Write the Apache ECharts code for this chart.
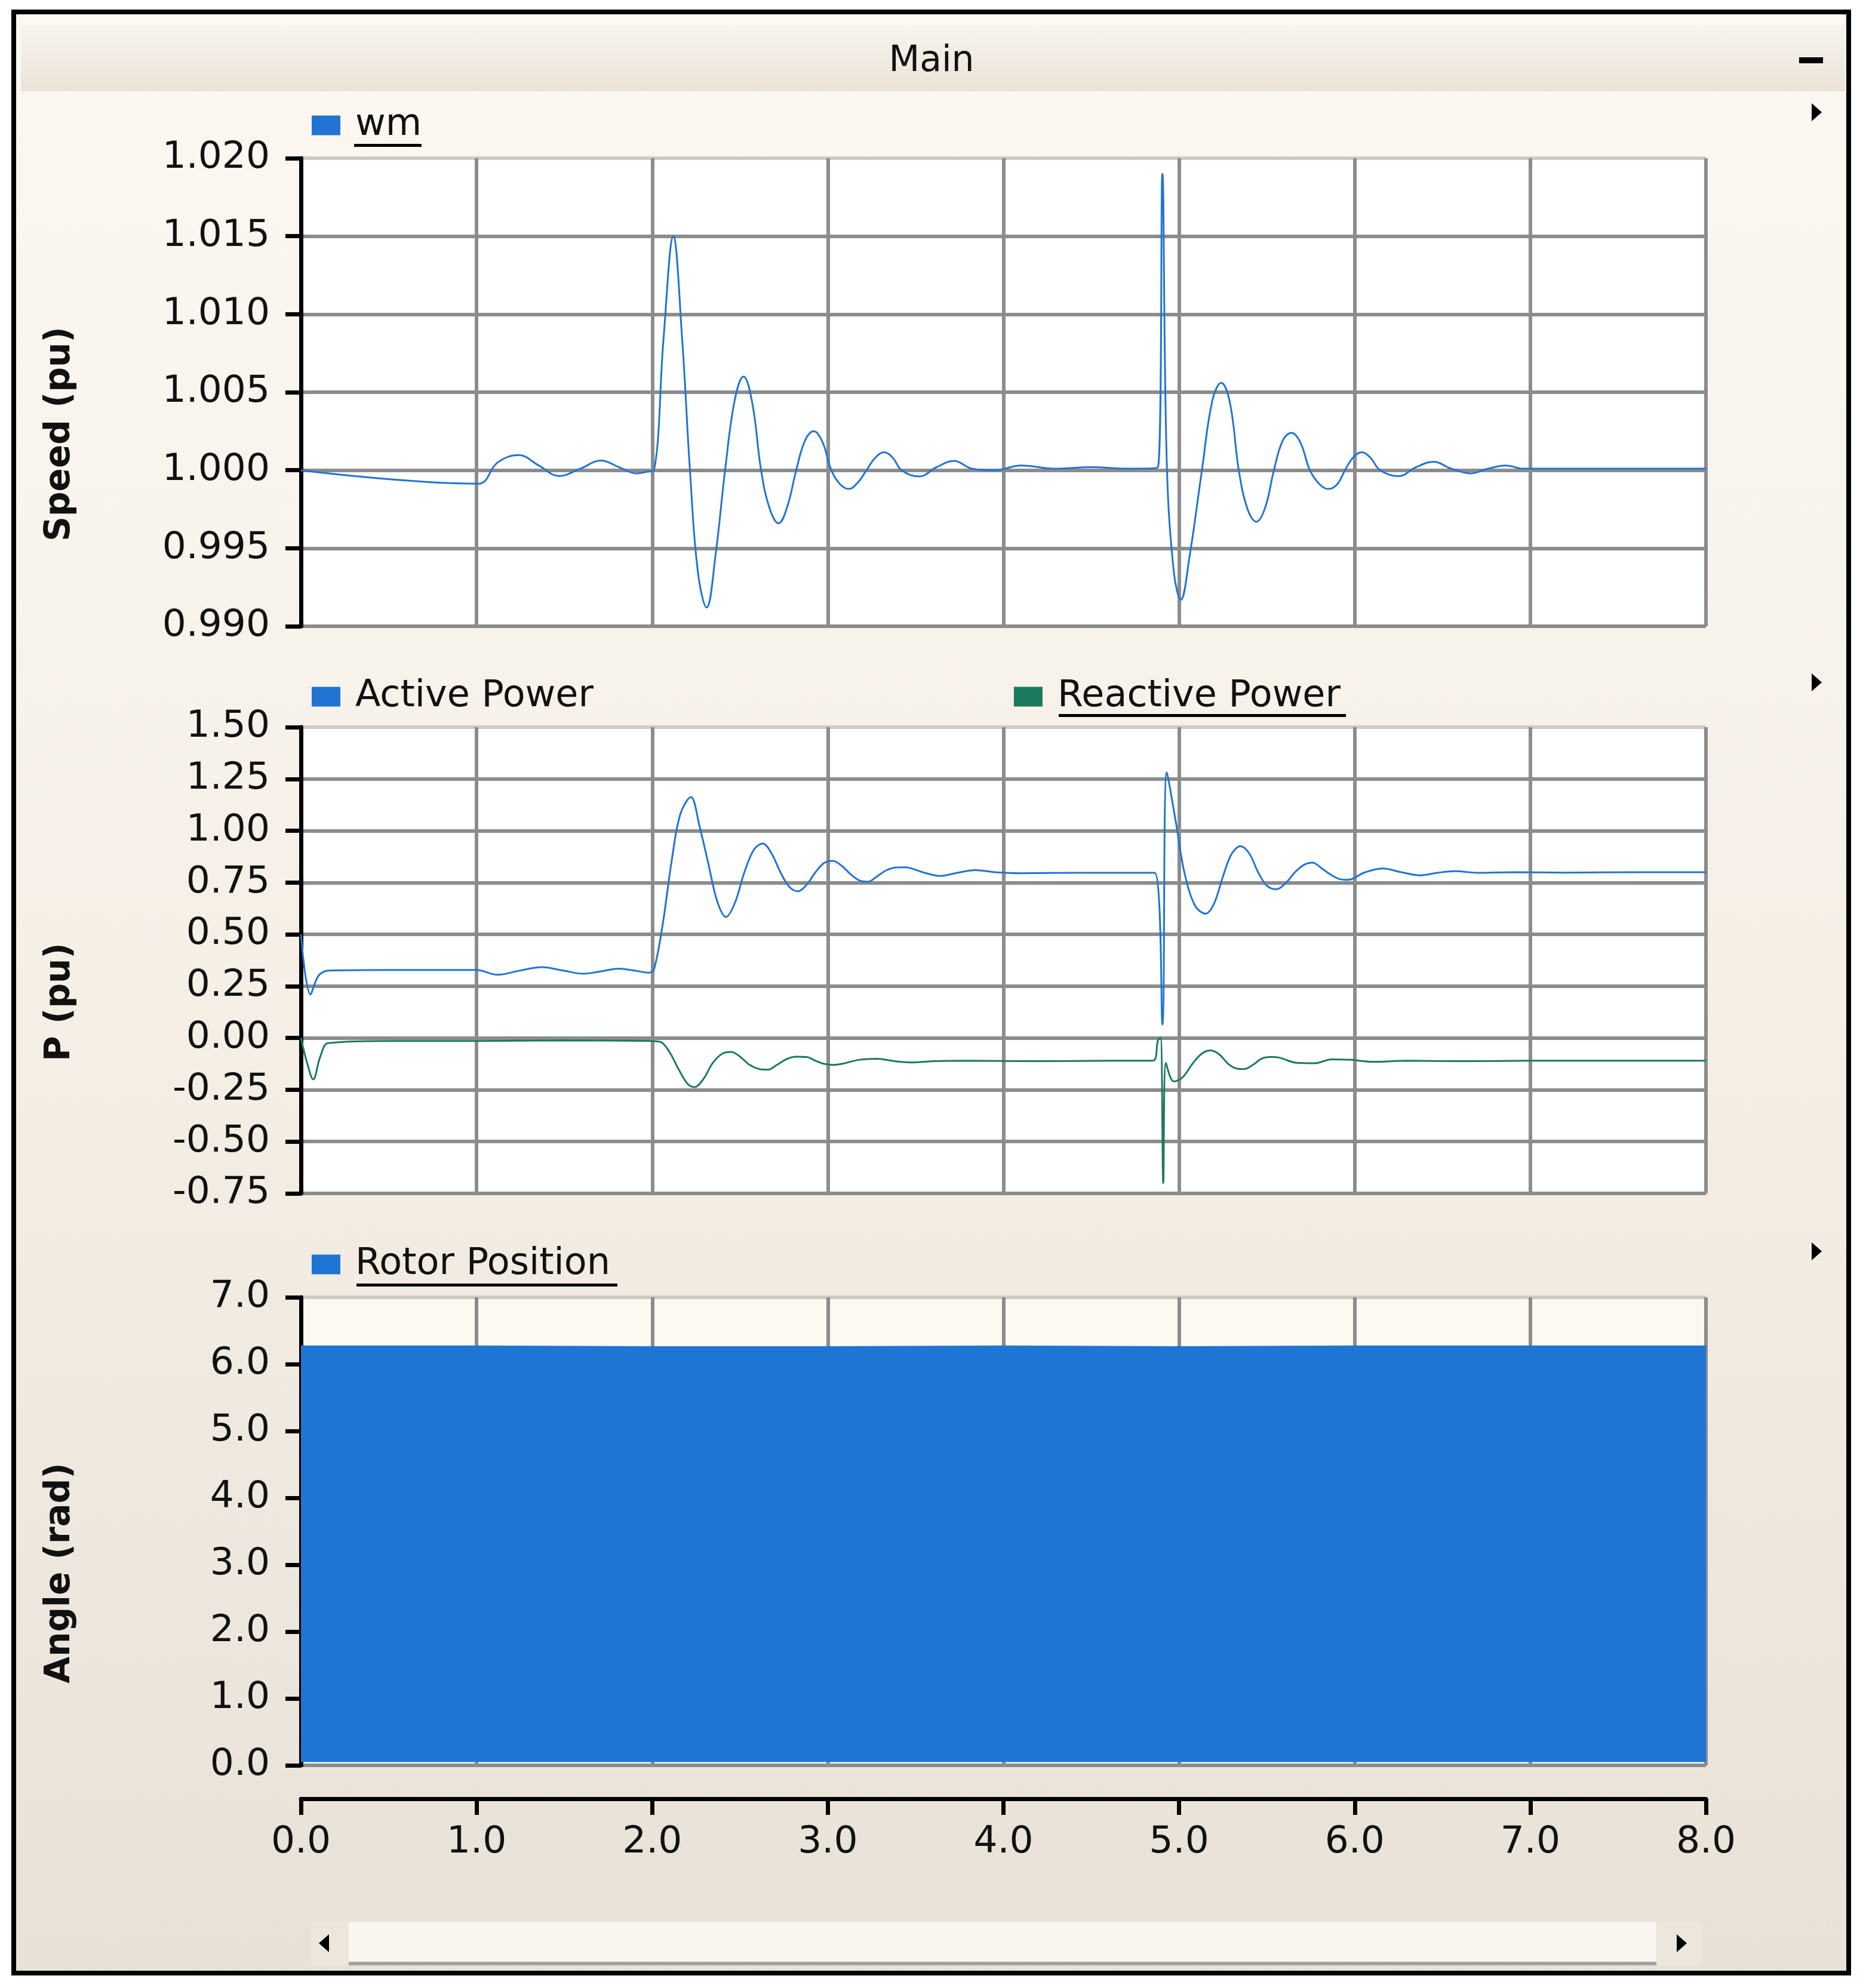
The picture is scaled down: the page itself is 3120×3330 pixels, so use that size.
<!DOCTYPE html>
<html>
<head>
<meta charset="utf-8">
<script src="https://cdn.jsdelivr.net/npm/echarts/dist/echarts.min.js"></script>
<style>
html,body{margin:0;padding:0;background:#fff;}
#chart{width:3120px;height:3330px;}
</style>
</head>
<body>
<div id="chart"></div>
<script>
// ---------- DATA ----------
const xTickLabels = ['0.0','1.0','2.0','3.0','4.0','5.0','6.0','7.0','8.0'];
const speedTickLabels = ['0.990','0.995','1.000','1.005','1.010','1.015','1.020'];
const powerTickLabels = ['-0.75','-0.50','-0.25','0.00','0.25','0.50','0.75','1.00','1.25','1.50'];
const angleTickLabels = ['0.0','1.0','2.0','3.0','4.0','5.0','6.0','7.0'];

const wmTime = [0, 1.01, 1.12, 1.24, 1.355, 1.47, 1.59, 1.71, 1.81, 1.91, 1.97, 2.01, 2.065, 2.12, 2.17, 2.215, 2.26, 2.31, 2.36, 2.415, 2.47, 2.52, 2.57, 2.62, 2.67, 2.72, 2.77, 2.82, 2.87, 2.92, 2.97, 3.02, 3.07, 3.12, 3.17, 3.22, 3.27, 3.32, 3.37, 3.42, 3.52, 3.62, 3.72, 3.82, 3.95, 4.1, 4.3, 4.5, 4.7, 4.88, 4.905, 4.93, 4.97, 5.01, 5.06, 5.13, 5.19, 5.24, 5.29, 5.34, 5.39, 5.44, 5.49, 5.54, 5.59, 5.64, 5.69, 5.745, 5.80, 5.85, 5.90, 5.945, 5.99, 6.04, 6.09, 6.145, 6.25, 6.35, 6.45, 6.55, 6.66, 6.76, 6.86, 6.96, 7.2, 7.5, 8.0];
const wmValue = [1.0000, 0.99914, 1.0005, 1.00097, 1.0003, 0.99963, 1.0001, 1.00062, 1.0002, 0.9998, 0.9999, 1.0000, 1.0085, 1.0150, 1.0085, 1.0000, 0.9935, 0.9912, 0.9945, 1.0000, 1.0045, 1.0060, 1.0043, 1.0000, 0.9975, 0.9966, 0.9977, 1.0000, 1.0019, 1.0025, 1.0018, 1.0000, 0.9991, 0.9988, 0.9992, 1.0000, 1.0008, 1.00115, 1.0008, 1.0000, 0.9996, 1.0002, 1.0006, 1.0001, 1.0000, 1.0003, 1.0001, 1.0002, 1.0001, 1.0002, 1.0190, 1.0005, 0.9935, 0.9917, 0.9945, 1.0000, 1.0045, 1.0056, 1.0043, 1.0000, 0.9975, 0.9967, 0.9976, 1.0000, 1.0019, 1.0024, 1.0018, 1.0000, 0.9991, 0.9988, 0.9991, 1.0000, 1.0008, 1.00115, 1.0008, 1.0000, 0.99962, 1.0002, 1.00054, 1.0001, 0.9998, 1.0001, 1.0003, 1.0001, 1.0001, 1.0001, 1.0001];

const pTime = [0, 0.054, 0.1, 0.16, 0.5, 1.0, 1.12, 1.245, 1.37, 1.49, 1.61, 1.71, 1.81, 1.9, 1.98, 2.01, 2.06, 2.11, 2.16, 2.22, 2.27, 2.32, 2.37, 2.42, 2.47, 2.525, 2.58, 2.63, 2.68, 2.73, 2.78, 2.83, 2.88, 2.93, 2.98, 3.03, 3.08, 3.13, 3.18, 3.23, 3.28, 3.335, 3.39, 3.44, 3.54, 3.64, 3.74, 3.84, 3.95, 4.1, 4.4, 4.7, 4.86, 4.905, 4.93, 4.98, 5.03, 5.09, 5.15, 5.2, 5.25, 5.30, 5.35, 5.40, 5.45, 5.50, 5.555, 5.61, 5.66, 5.71, 5.76, 5.81, 5.86, 5.91, 5.96, 6.06, 6.16, 6.265, 6.37, 6.47, 6.57, 6.7, 6.9, 7.2, 7.6, 8.0];
const pValue = [0.50, 0.21, 0.30, 0.325, 0.328, 0.328, 0.305, 0.325, 0.342, 0.326, 0.31, 0.322, 0.335, 0.325, 0.315, 0.33, 0.55, 0.85, 1.08, 1.163, 1.02, 0.84, 0.66, 0.584, 0.65, 0.80, 0.91, 0.938, 0.89, 0.80, 0.73, 0.708, 0.74, 0.80, 0.845, 0.855, 0.83, 0.79, 0.76, 0.754, 0.78, 0.81, 0.823, 0.824, 0.80, 0.782, 0.798, 0.81, 0.80, 0.795, 0.797, 0.797, 0.797, 0.065, 1.282, 1.05, 0.80, 0.64, 0.600, 0.65, 0.78, 0.89, 0.925, 0.89, 0.80, 0.735, 0.718, 0.75, 0.80, 0.835, 0.846, 0.82, 0.79, 0.768, 0.763, 0.80, 0.818, 0.80, 0.785, 0.797, 0.805, 0.797, 0.80, 0.798, 0.80, 0.80];

const qTime = [0, 0.035, 0.07, 0.11, 0.155, 0.5, 1.0, 1.5, 2.0, 2.05, 2.1, 2.15, 2.2, 2.24, 2.29, 2.345, 2.4, 2.45, 2.5, 2.555, 2.61, 2.66, 2.71, 2.77, 2.82, 2.88, 2.93, 2.98, 3.03, 3.08, 3.18, 3.28, 3.38, 3.48, 3.6, 3.8, 4.2, 4.6, 4.85, 4.88, 4.895, 4.91, 4.925, 4.97, 5.02, 5.08, 5.13, 5.18, 5.23, 5.28, 5.33, 5.37, 5.42, 5.47, 5.52, 5.57, 5.67, 5.77, 5.87, 5.97, 6.1, 6.3, 6.6, 7.0, 7.5, 8.0];
const qValue = [0.0, -0.12, -0.20, -0.09, -0.025, -0.015, -0.015, -0.012, -0.015, -0.02, -0.07, -0.15, -0.22, -0.237, -0.20, -0.12, -0.075, -0.067, -0.09, -0.13, -0.15, -0.153, -0.13, -0.10, -0.09, -0.092, -0.11, -0.125, -0.13, -0.125, -0.105, -0.10, -0.112, -0.118, -0.112, -0.11, -0.112, -0.11, -0.11, -0.01, 0.0, -0.70, -0.12, -0.21, -0.19, -0.12, -0.075, -0.06, -0.08, -0.125, -0.148, -0.15, -0.13, -0.10, -0.092, -0.095, -0.12, -0.122, -0.103, -0.105, -0.115, -0.11, -0.112, -0.11, -0.11, -0.11];

// Rotor position: dense 0..2π sawtooth, shown as its envelope band (low..high)
const rotorTime = [0, 1, 2, 3, 4, 5, 6, 7, 8];
const rotorLow  = [0.05, 0.05, 0.05, 0.05, 0.05, 0.05, 0.05, 0.05, 0.05];
const rotorHigh = [6.27, 6.27, 6.26, 6.26, 6.27, 6.26, 6.27, 6.27, 6.27];

// ---------- BUILD ----------
const zip = (a, b) => a.map((t, i) => [t, b[i]]);
const FONT = 'DejaVu Sans';
const BLUE = '#2274d2';
const ROTOR_BLUE = '#1f75d3';
const GREEN = '#1b7a5e';
const GRID_GRAY = '#8c8c8c';
const LIGHT_TOP = '#cfcbc4';

function yAxisCfg(gi, min, max, interval, labels, name, nLines) {
  const colors = [];
  for (let i = 0; i < nLines; i++) colors.push(i === nLines - 1 ? LIGHT_TOP : GRID_GRAY);
  return {
    type: 'value', gridIndex: gi, min: min, max: max, interval: interval,
    name: name, nameLocation: 'middle', nameGap: 374, nameRotate: 90,
    nameTextStyle: { fontFamily: FONT, fontSize: 58, fontWeight: 'bold', color: '#111', padding: [0, 140, 0, 0] },
    axisLine: { show: true, onZero: false, lineStyle: { color: '#000', width: 7 } },
    axisTick: { show: true, inside: false, length: 26, lineStyle: { color: '#000', width: 7 } },
    axisLabel: {
      margin: 52, fontFamily: FONT, fontSize: 63, color: '#111',
      formatter: v => labels[Math.round((v - min) / interval)]
    },
    splitLine: { show: true, lineStyle: { color: colors, width: 6 } }
  };
}
function xAxisCfg(gi, visible) {
  return {
    type: 'value', gridIndex: gi, min: 0, max: 8, interval: 1,
    offset: visible ? 56 : 0,
    axisLine: { show: visible, onZero: false, lineStyle: { color: '#000', width: 7 } },
    axisTick: { show: visible, inside: false, length: 27, lineStyle: { color: '#000', width: 7 } },
    axisLabel: {
      show: visible, margin: 42, fontFamily: FONT, fontSize: 63, color: '#111',
      formatter: v => xTickLabels[Math.round(v)]
    },
    splitLine: { show: true, showMinLine: false, lineStyle: { color: GRID_GRAY, width: 6 } }
  };
}
function tri(x, y, dir) { // small arrow glyph decoration
  const pts = dir > 0 ? [[x, y - 15], [x, y + 15], [x + 17, y]] : [[x + 17, y - 15], [x + 17, y + 15], [x, y]];
  return { type: 'polygon', shape: { points: pts }, style: { fill: '#000' }, z: 50 };
}

const legendText = { fontFamily: FONT, fontSize: 62, color: '#111', padding: [0, 0, 0, 20] };
const legendBase = { left: 522, padding: 0, icon: 'rect', itemWidth: 48, itemHeight: 33, textStyle: legendText };

const option = {
  animation: false,
  title: {
    text: 'Main', left: 'center', top: 68,
    textStyle: { fontFamily: FONT, fontSize: 60, fontWeight: 'normal', color: '#111' }
  },
  legend: [
    Object.assign({ data: ['wm'], top: 179 }, legendBase),
    Object.assign({ data: ['Active Power', 'Reactive Power'], top: 1136, itemGap: 704 }, legendBase),
    Object.assign({ data: ['Rotor Position'], top: 2087 }, legendBase)
  ],
  grid: [
    { left: 504, width: 2353, top: 265, height: 784, show: true, backgroundColor: '#ffffff', borderWidth: 0 },
    { left: 504, width: 2353, top: 1218, height: 781, show: true, backgroundColor: '#ffffff', borderWidth: 0 },
    { left: 504, width: 2353, top: 2173, height: 784, show: true, backgroundColor: '#fdf9f1', borderWidth: 0 }
  ],
  xAxis: [xAxisCfg(0, false), xAxisCfg(1, false), xAxisCfg(2, true)],
  yAxis: [
    yAxisCfg(0, 0.990, 1.020, 0.005, speedTickLabels, 'Speed (pu)', 7),
    yAxisCfg(1, -0.75, 1.50, 0.25, powerTickLabels, 'P (pu)', 10),
    yAxisCfg(2, 0, 7, 1, angleTickLabels, 'Angle (rad)', 8)
  ],
  series: [
    { name: 'wm', type: 'line', xAxisIndex: 0, yAxisIndex: 0, data: zip(wmTime, wmValue),
      showSymbol: false, smooth: 0.4, itemStyle: { color: BLUE }, lineStyle: { color: BLUE, width: 3 } },
    { name: 'Active Power', type: 'line', xAxisIndex: 1, yAxisIndex: 1, data: zip(pTime, pValue),
      showSymbol: false, smooth: 0.35, itemStyle: { color: BLUE }, lineStyle: { color: BLUE, width: 3 } },
    { name: 'Reactive Power', type: 'line', xAxisIndex: 1, yAxisIndex: 1, data: zip(qTime, qValue),
      showSymbol: false, smooth: 0.35, itemStyle: { color: GREEN }, lineStyle: { color: GREEN, width: 3 } },
    { name: 'Rotor Position', type: 'line', xAxisIndex: 2, yAxisIndex: 2,
      data: zip(rotorTime, rotorHigh),
      showSymbol: false, itemStyle: { color: ROTOR_BLUE }, lineStyle: { color: ROTOR_BLUE, width: 2 },
      areaStyle: { color: ROTOR_BLUE, opacity: 1, origin: Math.min.apply(null, rotorLow) } }
  ],
  graphic: [
    { type: 'rect', shape: { x: 0, y: 0, width: 3120, height: 3330 }, style: { fill: '#ffffff' }, z: -30 },
    { type: 'rect', shape: { x: 23, y: 20, width: 3073, height: 3285 },
      style: { fill: new echarts.graphic.LinearGradient(0, 0, 0, 1, [
        { offset: 0, color: '#fcf8f2' }, { offset: 0.5, color: '#f5efe6' }, { offset: 1, color: '#e8e1d6' }]) }, z: -29 },
    { type: 'rect', shape: { x: 35, y: 42, width: 3055, height: 111 },
      style: { fill: new echarts.graphic.LinearGradient(0, 0, 0, 1, [
        { offset: 0, color: '#f8f4ee' }, { offset: 1, color: '#ebe3d7' }]) }, z: -28 },
    { type: 'rect', shape: { x: 23, y: 20, width: 3073, height: 3285 }, style: { fill: 'none', stroke: '#000', lineWidth: 8 }, z: 60 },
    { type: 'rect', shape: { x: 3013, y: 96, width: 40, height: 10 }, style: { fill: '#000' }, z: 50 },
    tri(3034, 188, 1), tri(3034, 1143, 1), tri(3034, 2096, 1),
    // legend underlines
    { type: 'rect', shape: { x: 593, y: 241, width: 113, height: 5 }, style: { fill: '#000' }, z: 50 },
    { type: 'rect', shape: { x: 1773, y: 1196, width: 481, height: 5 }, style: { fill: '#000' }, z: 50 },
    { type: 'rect', shape: { x: 597, y: 2150, width: 437, height: 5 }, style: { fill: '#000' }, z: 50 },
    // scrollbar
    { type: 'rect', shape: { x: 520, y: 3218, width: 2330, height: 74 }, style: { fill: '#ece6dc' }, z: -20 },
    { type: 'rect', shape: { x: 584, y: 3220, width: 2190, height: 66 }, style: { fill: '#faf6ef' }, z: -19 },
    { type: 'rect', shape: { x: 584, y: 3286, width: 2190, height: 6 }, style: { fill: '#a3a3a3' }, z: -19 },
    tri(534, 3255, -1), tri(2808, 3255, 1)
  ]
};

const chart = echarts.init(document.getElementById('chart'), null, { renderer: 'canvas' });
chart.setOption(option);
</script>
</body>
</html>
